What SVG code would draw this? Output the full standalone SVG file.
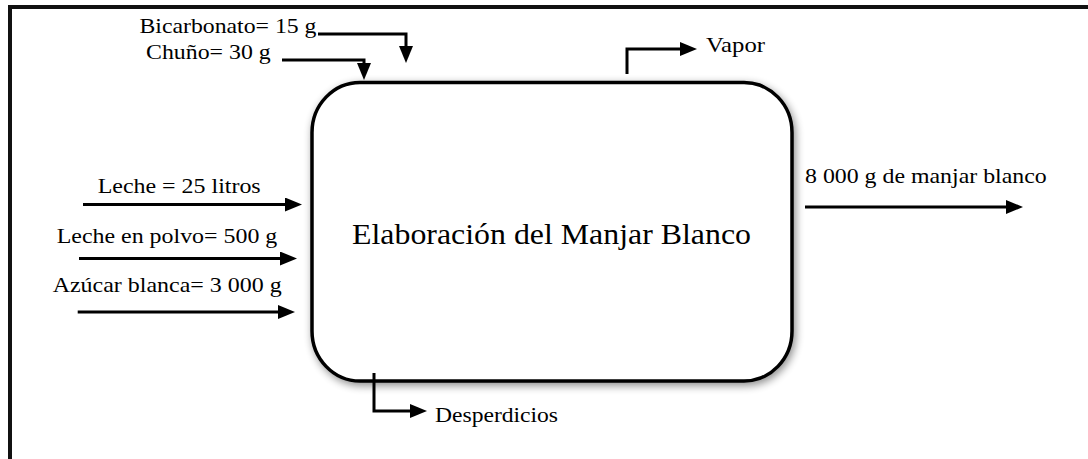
<svg xmlns="http://www.w3.org/2000/svg" width="1088" height="459" viewBox="0 0 1088 459">
<style>
text{font-family:"Liberation Serif","Times New Roman",serif;fill:#000;font-size:22px}
.title{font-size:29px}
.ln{fill:none;stroke:#000;stroke-width:3;marker-end:url(#ah)}
.frame{fill:none;stroke:#111;stroke-width:4}
.box{fill:#fff;stroke:#000;stroke-width:3.5}
</style>
<defs>
<marker id="ah" viewBox="0 0 17 14" markerUnits="userSpaceOnUse" markerWidth="17" markerHeight="14" refX="2" refY="7" orient="auto">
<path d="M0,0 L17,7 L0,14 z" fill="#000"/>
</marker>
<filter id="sh" x="-10%" y="-10%" width="120%" height="125%">
<feGaussianBlur in="SourceAlpha" stdDeviation="4"/>
<feOffset dx="2" dy="3" result="b"/>
<feComponentTransfer><feFuncA type="linear" slope="0.45"/></feComponentTransfer>
<feMerge><feMergeNode/><feMergeNode in="SourceGraphic"/></feMerge>
</filter>
</defs>
<rect width="1088" height="459" fill="#fff"/>
<path class="frame" d="M10,459 V7 H1088"/>
<g id="proceso">
<rect class="box" x="312" y="82.5" width="480" height="298.5" rx="48" ry="50" filter="url(#sh)"/>
<text class="title" x="352" y="244" textLength="399" lengthAdjust="spacingAndGlyphs">Elaboración del Manjar Blanco</text>
</g>
<g id="bicarbonato"><text x="139.5" y="33" textLength="177" lengthAdjust="spacingAndGlyphs">Bicarbonato= 15 g</text></g>
<g id="chuno"><text x="146" y="59" textLength="124.7" lengthAdjust="spacingAndGlyphs">Chuño= 30 g</text></g>
<g id="vapor"><text x="706" y="52" textLength="59" lengthAdjust="spacingAndGlyphs">Vapor</text></g>
<g id="leche"><text x="97.7" y="193" textLength="163" lengthAdjust="spacingAndGlyphs">Leche = 25 litros</text></g>
<g id="leche-polvo"><text x="56.7" y="243" textLength="220.6" lengthAdjust="spacingAndGlyphs">Leche en polvo= 500 g</text></g>
<g id="azucar"><text x="52.7" y="292" textLength="229" lengthAdjust="spacingAndGlyphs">Azúcar blanca= 3 000 g</text></g>
<g id="producto"><text x="805" y="183" textLength="241.7" lengthAdjust="spacingAndGlyphs">8 000 g de manjar blanco</text></g>
<g id="desperdicios"><text x="435" y="422" textLength="123" lengthAdjust="spacingAndGlyphs">Desperdicios</text></g>
<g id="conectores">
<path class="ln" d="M318,34 H406 V48"/>
<path class="ln" d="M282,60 H364 V65"/>
<path class="ln" d="M627,74 V49 H682"/>
<path class="ln" d="M83,204.5 H287"/>
<path class="ln" d="M79,258.5 H282"/>
<path class="ln" d="M77.7,312 H280"/>
<path class="ln" d="M805,207 H1008"/>
<path class="ln" d="M374,373 V411 H412"/>
</g>
</svg>
